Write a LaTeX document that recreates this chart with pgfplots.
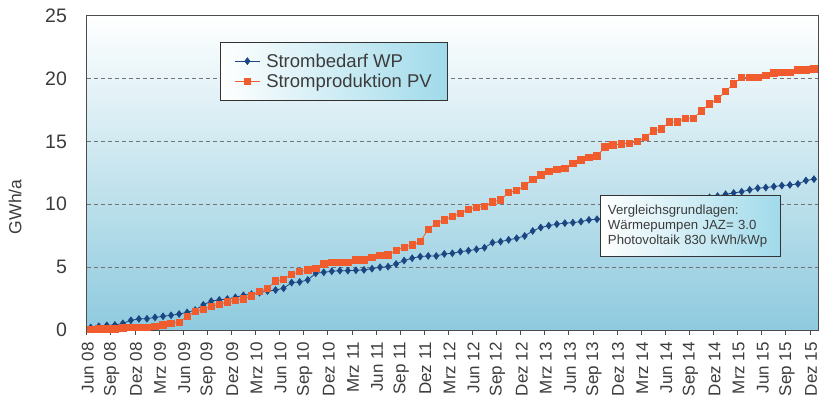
\documentclass[border=0pt]{standalone}
\usepackage{pgfplots}
\pgfplotsset{compat=1.18}
\usepackage{fontspec}
\setmainfont{Liberation Sans}
\definecolor{wpblue}{RGB}{28,70,130}
\definecolor{pvred}{RGB}{240,92,45}
\definecolor{bgmid}{RGB}{200,236,246}
\definecolor{bgbot}{RGB}{142,202,222}
\definecolor{boxcyan}{RGB}{160,218,234}
\definecolor{txtgray}{RGB}{60,60,60}
\begin{document}
\begin{tikzpicture}
\begin{axis}[
  scale only axis,
  width=731.3pt, height=314.3pt,
  xmin=-0.5, xmax=90.5, ymin=0, ymax=25,
  axis background/.style={shade, top color=white, middle color=bgmid, bottom color=bgbot},
  axis line style={draw=black!70, line width=0.9pt},
  ytick={0,5,10,15,20,25},
  ymajorgrids,
  grid style={dash pattern=on 4pt off 3pt, black!55, line width=0.6pt},
  ytick style={draw=none},
  xtick={0,3,...,90},
  xticklabels={Jun 08,Sep 08,Dez 08,Mrz 09,Jun 09,Sep 09,Dez 09,Mrz 10,Jun 10,Sep 10,Dez 10,Mrz 11,Jun 11,Sep 11,Dez 11,Mrz 12,Jun 12,Sep 12,Dez 12,Mrz 13,Jun 13,Sep 13,Dez 13,Mrz 14,Jun 14,Sep 14,Dez 14,Mrz 15,Jun 15,Sep 15,Dez 15},
  major x tick style={draw=none},
  minor xtick={-0.5,2.5,...,89.5},
  minor x tick style={draw=black!70, line width=0.8pt},
  minor tick length=5pt,
  tick align=outside,
  xtick pos=bottom, ytick pos=left,
  /pgf/number format/assume math mode=true,
  yticklabel style={font=\fontsize{19.5}{21}\selectfont, text=txtgray, xshift=-12pt},
  xticklabel style={font=\fontsize{17}{19}\selectfont, text=txtgray, rotate=90, anchor=east, inner sep=1pt, xshift=-6.7pt, yshift=3pt},
  legend style={at={(0.1823,0.9154)}, anchor=north west, draw=black!80, line width=0.9pt,
    left color=white, right color=boxcyan, font=\fontsize{18.5}{20}\selectfont, text=txtgray,
    inner xsep=14pt, inner ysep=10pt, row sep=3.5pt, nodes={inner sep=1pt}},
  legend cell align=left,
  legend image code/.code={\draw[mark repeat=2,mark phase=2,#1] plot coordinates {(0pt,0pt) (12.5pt,0pt) (25pt,0pt)};},
]
\addplot[wpblue, line width=0.8pt, mark=diamond*, mark size=3.3pt, mark options={fill=wpblue, draw=wpblue}] coordinates {
(0,0.2)(1,0.3)(2,0.37)(3,0.4)(4,0.53)(5,0.77)(6,0.88)(7,0.9)(8,1.0)(9,1.09)
(10,1.17)(11,1.27)(12,1.4)(13,1.59)(14,2.0)(15,2.3)(16,2.39)(17,2.47)(18,2.6)(19,2.76)
(20,2.85)(21,2.97)(22,3.1)(23,3.18)(24,3.32)(25,3.77)(26,3.82)(27,3.98)(28,4.51)(29,4.59)
(30,4.67)(31,4.72)(32,4.72)(33,4.75)(34,4.78)(35,4.88)(36,4.99)(37,5.04)(38,5.25)(39,5.52)
(40,5.71)(41,5.84)(42,5.89)(43,5.89)(44,6.05)(45,6.1)(46,6.23)(47,6.31)(48,6.42)(49,6.55)
(50,6.95)(51,7.03)(52,7.17)(53,7.3)(54,7.48)(55,7.88)(56,8.15)(57,8.3)(58,8.42)(59,8.5)
(60,8.54)(61,8.62)(62,8.76)(63,8.81)(64,8.9)(65,9.0)(66,9.1)(67,9.2)(68,9.35)(69,9.5)
(70,9.6)(71,9.7)(72,9.8)(73,9.95)(74,10.1)(75,10.3)(76,10.45)(77,10.55)(78,10.65)(79,10.8)
(80,10.9)(81,11.0)(82,11.15)(83,11.28)(84,11.33)(85,11.41)(86,11.49)(87,11.54)(88,11.62)(89,11.89)
(90,12.0)};
\addlegendentry{\makebox[171pt][l]{\hspace{5pt}Strombedarf WP}}
\addplot[pvred, line width=0.8pt, mark=square*, mark size=3.2pt, mark options={fill=pvred, draw=pvred}] coordinates {
(0,0.05)(1,0.1)(2,0.1)(3,0.1)(4,0.16)(5,0.21)(6,0.21)(7,0.21)(8,0.27)(9,0.4)
(10,0.53)(11,0.62)(12,1.1)(13,1.46)(14,1.65)(15,1.86)(16,2.05)(17,2.23)(18,2.34)(19,2.48)
(20,2.71)(21,3.05)(22,3.32)(23,3.9)(24,4.03)(25,4.43)(26,4.64)(27,4.78)(28,4.91)(29,5.25)
(30,5.39)(31,5.39)(32,5.39)(33,5.57)(34,5.57)(35,5.76)(36,5.92)(37,5.97)(38,6.34)(39,6.58)
(40,6.77)(41,7.03)(42,8.02)(43,8.5)(44,8.76)(45,9.02)(46,9.29)(47,9.61)(48,9.77)(49,9.82)
(50,10.19)(51,10.35)(52,10.93)(53,11.09)(54,11.46)(55,12.0)(56,12.34)(57,12.6)(58,12.79)(59,12.87)
(60,13.27)(61,13.54)(62,13.75)(63,13.85)(64,14.55)(65,14.73)(66,14.79)(67,14.86)(68,14.99)(69,15.34)
(70,15.84)(71,15.98)(72,16.55)(73,16.55)(74,16.85)(75,16.85)(76,17.44)(77,17.97)(78,18.37)(79,18.98)
(80,19.59)(81,20.09)(82,20.09)(83,20.09)(84,20.25)(85,20.44)(86,20.49)(87,20.49)(88,20.7)(89,20.7)
(90,20.78)};
\addlegendentry{\makebox[171pt][l]{\hspace{5pt}Stromproduktion PV}}
\end{axis}
\node[anchor=north west, draw=black!80, line width=0.9pt, left color=white, right color=boxcyan,
  minimum width=180pt, minimum height=61.3pt, text width=165pt, align=left, inner xsep=7.5pt,
  font=\fontsize{13.2}{15}\selectfont, text=txtgray] at ([shift={(513.3pt,135.3pt)}]current axis.south west)
  {Vergleichsgrundlagen:\\Wärmepumpen JAZ= 3.0\\Photovoltaik 830 kWh/kWp};
\node[rotate=90, font=\fontsize{17.5}{20}\selectfont, text=txtgray] at ([xshift=-71.7pt, yshift=-34pt]current axis.west) {GWh/a};
\pgfresetboundingbox
\path[use as bounding box] ([shift={(-86.7pt,-75pt)}]current axis.south west) rectangle ([shift={(1pt,15.7pt)}]current axis.north east);
\end{tikzpicture}
\end{document}
